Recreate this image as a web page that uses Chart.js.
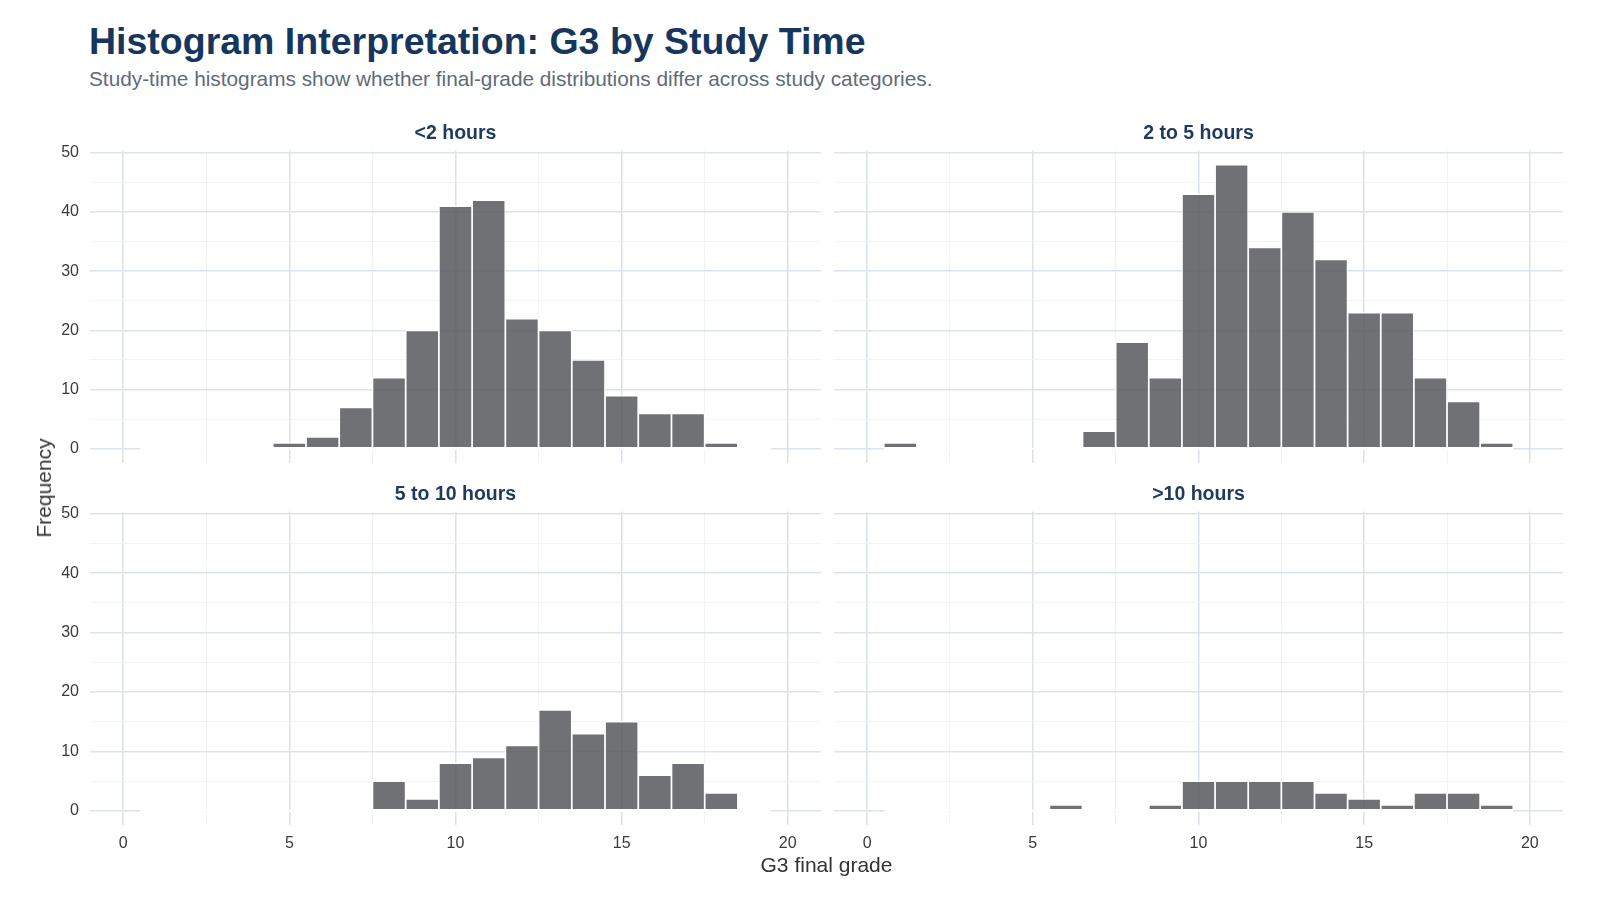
<!DOCTYPE html>
<html>
<head>
<meta charset="utf-8">
<title>Histogram Interpretation: G3 by Study Time</title>
<script src="https://cdn.jsdelivr.net/npm/chart.js@4.4.1/dist/chart.umd.min.js"></script>
<style>
  html, body { margin: 0; padding: 0; background: #fff; }
  body { width: 1600px; height: 900px; position: relative; overflow: hidden; font-family: "Liberation Sans", Arial, sans-serif; }
  canvas { position: absolute; }
  .title { position: absolute; left: 89px; top: 23px; font-size: 37.5px; line-height: 37px; font-weight: bold; color: #17365d; white-space: nowrap; }
  .subtitle { position: absolute; left: 89px; top: 69px; font-size: 20.8px; line-height: 20px; color: #5f6b7a; white-space: nowrap; }
  .xtitle { position: absolute; left: 90px; width: 1473px; top: 853px; text-align: center; font-size: 21px; color: #333; }
  .ytitle { position: absolute; left: 44px; top: 488px; font-size: 21px; color: #333; transform: translate(-50%, -50%) rotate(-90deg); white-space: nowrap; }
</style>
</head>
<body>
<div class="title">Histogram Interpretation: G3 by Study Time</div>
<div class="subtitle">Study-time histograms show whether final-grade distributions differ across study categories.</div>
<canvas id="p1" width="791" height="341" style="left:30px;top:122px"></canvas>
<canvas id="p2" width="729" height="341" style="left:834px;top:122px"></canvas>
<canvas id="p3" width="791" height="382" style="left:30px;top:483px"></canvas>
<canvas id="p4" width="729" height="382" style="left:834px;top:483px"></canvas>
<div class="ytitle">Frequency</div>
<div class="xtitle">G3 final grade</div>
<script>
// G3 bins (width 1, centred on each grade)
const bins = [1, 2, 3, 4, 5, 6, 7, 8, 9, 10, 11, 12, 13, 14, 15, 16, 17, 18, 19];

// counts per study-time group
const under2 = [0, 0, 0, 0, 1, 2, 7, 12, 20, 41, 42, 22, 20, 15, 9, 6, 6, 1, 0];
const from2to5 = [1, 0, 0, 0, 0, 0, 3, 18, 12, 43, 48, 34, 40, 32, 23, 23, 12, 8, 1];
const from5to10 = [0, 0, 0, 0, 0, 0, 0, 5, 2, 8, 9, 11, 17, 13, 15, 6, 8, 3, 0];
const over10 = [0, 0, 0, 0, 0, 1, 0, 0, 1, 5, 5, 5, 5, 3, 2, 1, 3, 3, 1];

const panelNames = ["<2 hours", "2 to 5 hours", "5 to 10 hours", ">10 hours"];

// axis ticks
const xMajor = [0, 5, 10, 15, 20];
const xMinor = [2.5, 7.5, 12.5, 17.5];
const yMajor = [0, 10, 20, 30, 40, 50];
const yMinor = [5, 15, 25, 35, 45];

const FONT = "'Liberation Sans', Arial, sans-serif";
const majorGrid = "#dde3ec";
const minorGrid = "#eef1f5";

function gridOpts(major) {
    return {
        offset: false,
        drawTicks: false,
        color: ctx => major.includes(ctx.tick && ctx.tick.value) ? majorGrid : minorGrid,
        lineWidth: ctx => major.includes(ctx.tick && ctx.tick.value) ? 1.6 : 0.8
    };
}

// ggplot draws empty bins as white outlines along the baseline
const emptyBins = {
    id: "emptyBins",
    beforeDatasetsDraw(chart) {
        const x = chart.scales.x, y = chart.scales.y, c = chart.ctx;
        c.save();
        c.strokeStyle = "#ffffff";
        c.lineWidth = 2;
        c.beginPath();
        c.moveTo(x.getPixelForValue(bins[0] - 0.5), y.getPixelForValue(0));
        c.lineTo(x.getPixelForValue(bins[bins.length - 1] + 0.5), y.getPixelForValue(0));
        c.stroke();
        c.restore();
    }
};

function makePanel(id, name, counts, showX, showY) {
    const ctx = document.getElementById(id).getContext("2d");
    new Chart(ctx, {
        type: "bar",
        data: {
            datasets: [{
                data: bins.map((b, i) => ({ x: b, y: counts[i] })),
                backgroundColor: "rgba(86, 88, 93, 0.85)",
                borderColor: "#ffffff",
                borderWidth: 1.2,
                borderSkipped: false,
                categoryPercentage: 1.0,
                barPercentage: 1.0
            }]
        },
        plugins: [emptyBins],
        options: {
            responsive: false,
            animation: false,
            devicePixelRatio: 1,
            layout: { padding: 0 },
            plugins: {
                legend: { display: false },
                tooltip: { enabled: false },
                title: {
                    display: true,
                    fullSize: false,
                    text: name,
                    color: "#1f3a5f",
                    font: { family: FONT, size: 19.5, weight: "bold" },
                    padding: { top: 0, bottom: 5 }
                }
            },
            scales: {
                x: {
                    type: "linear",
                    min: -1,
                    max: 21,
                    offset: false,
                    border: { display: false },
                    grid: gridOpts(xMajor),
                    afterBuildTicks: s => { s.ticks = xMajor.concat(xMinor).sort((a, b) => a - b).map(v => ({ value: v })); },
                    afterFit: s => { s.height = showX ? 40 : 0; s.paddingLeft = 0; s.paddingRight = 0; },
                    ticks: {
                        display: showX,
                        autoSkip: false,
                        maxRotation: 0,
                        padding: 9,
                        color: "#3a3a3a",
                        font: { family: FONT, size: 16 },
                        callback: v => xMajor.includes(v) ? String(v) : ""
                    }
                },
                y: {
                    min: -2.4,
                    max: 50.4,
                    border: { display: false },
                    grid: gridOpts(yMajor),
                    afterBuildTicks: s => { s.ticks = yMajor.concat(yMinor).sort((a, b) => a - b).map(v => ({ value: v })); },
                    afterFit: s => { s.width = showY ? 60 : 0; s.paddingTop = 0; s.paddingBottom = 0; },
                    ticks: {
                        display: showY,
                        autoSkip: false,
                        padding: 11,
                        color: "#3a3a3a",
                        font: { family: FONT, size: 16 },
                        callback: v => yMajor.includes(v) ? String(v) : ""
                    }
                }
            }
        }
    });
}

makePanel("p1", panelNames[0], under2, false, true);
makePanel("p2", panelNames[1], from2to5, false, false);
makePanel("p3", panelNames[2], from5to10, true, true);
makePanel("p4", panelNames[3], over10, true, false);
</script>
</body>
</html>
